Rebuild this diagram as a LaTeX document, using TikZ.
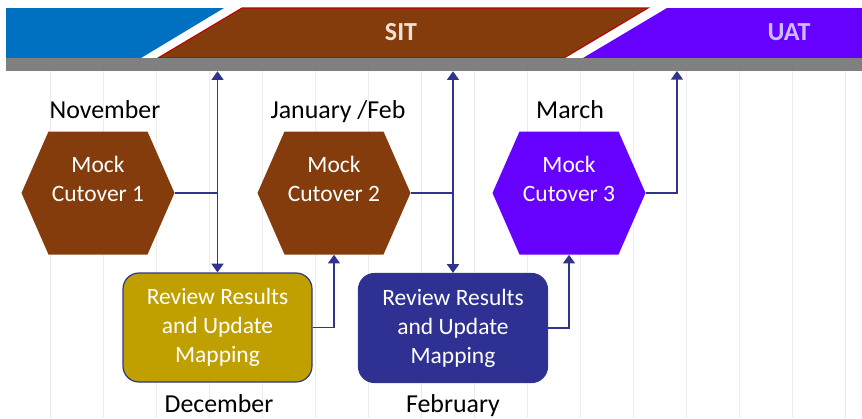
\documentclass[tikz,border=0pt]{standalone}
\usepackage{fontspec}
\setmainfont{Carlito}
\usetikzlibrary{arrows.meta}

\definecolor{devblue}{RGB}{0,112,192}
\definecolor{cutbrown}{RGB}{132,60,12}
\definecolor{uatviolet}{RGB}{102,0,255}
\definecolor{reviewgold}{RGB}{191,160,0}
\definecolor{reviewnavy}{RGB}{46,49,146}
\definecolor{linknavy}{RGB}{48,52,140}
\definecolor{bandgray}{RGB}{128,128,128}

\tikzstyle{monthS}=[inner sep=0pt, anchor=base, font=\fontsize{19.4}{23}\selectfont]
\tikzstyle{tagS}=[inner sep=0pt, anchor=base, font=\fontsize{19.5}{23}\selectfont\bfseries]
\tikzstyle{boxS}=[rectangle, rounded corners=12pt, minimum width=141.75pt, minimum height=81.75pt, inner sep=0pt, draw=linknavy, line width=0.9pt, text=white, align=center, font=\fontsize{17.6}{21.8}\selectfont]
\tikzstyle{linkS}=[linknavy, line width=1.1pt]
\tikzstyle{gridS}=[gray!15, line width=0.6pt]
\tikzset{hexS/.style={minimum width=114.75pt, minimum height=92.25pt, inner sep=0pt, text=white, align=center, font=\fontsize{17.6}{21.4}\selectfont,
    path picture={\fill[#1] (path picture bounding box.west)
        -- ([xshift=20.25pt]path picture bounding box.north west)
        -- ([xshift=-20.25pt]path picture bounding box.north east)
        -- (path picture bounding box.east)
        -- ([xshift=-20.25pt]path picture bounding box.south east)
        -- ([xshift=20.25pt]path picture bounding box.south west) -- cycle;}}}

\begin{document}
\begin{tikzpicture}[x=0.75pt,y=-0.75pt,>={Triangle[width=9pt,length=6.5pt]}]
    \useasboundingbox (0,0) rectangle (862,418);
    \foreach \gx in {0,...,15}
        \draw[gridS] ({50+53*\gx},71) -- ({50+53*\gx},418);

    % phase bar
    \fill[devblue] (6,8) -- (224,8) -- (141,58) -- (6,58) -- cycle;
    \draw[fill=cutbrown, draw=red!75!black, line width=0.8pt] (242,8) -- (648,8) -- (564,58) -- (158,58) -- cycle;
    \fill[uatviolet] (667,8) -- (862,8) -- (862,58) -- (583,58) -- cycle;
    \draw (434,64.5) node[fill=bandgray, minimum width=642pt, minimum height=9.75pt, inner sep=0pt] (band) {};
    \draw (401,40) node[tagS, text={rgb,255:red,242;green,224;blue,214}] (sit) {SIT};
    \draw (789,40) node[tagS, text={rgb,255:red,204;green,188;blue,255}] (uat) {UAT};
    \coordinate (uatlink) at (677,71);

    \draw (98,193) node[hexS=cutbrown] (mc1) {Mock\\Cutover 1\\\mbox{}};
    \draw (334,193) node[hexS=cutbrown] (mc2) {Mock\\Cutover 2\\\mbox{}};
    \draw (569,193) node[hexS=uatviolet] (mc3) {Mock\\Cutover 3\\\mbox{}};
    \draw (217.5,327.5) node[boxS, fill=reviewgold] (rr1) {Review Results\\and Update\\Mapping};
    \draw (453,328) node[boxS, fill=reviewnavy] (rr2) {Review Results\\and Update\\Mapping};

    \draw (105,118) node[monthS] (nov) {November};
    \draw (338,118) node[monthS] (jan) {January /Feb};
    \draw (570,118) node[monthS] (mar) {March};
    \draw (219,412) node[monthS] (dec) {December};
    \draw (453,412) node[monthS] (feb) {February};

    \draw[linkS, <->] (band.south -| rr1.north) -- (rr1.north);
    \draw[linkS] (mc1.east) -- (mc1.east -| rr1.north);
    \draw[linkS, ->] (rr1.east) -| (mc2.south);
    \draw[linkS, <->] (band.south -| rr2.north) -- (rr2.north);
    \draw[linkS] (mc2.east) -- (mc2.east -| rr2.north);
    \draw[linkS, ->] (rr2.east) -| (mc3.south);
    \draw[linkS, ->] (mc3.east) -| (uatlink);
\end{tikzpicture}
\end{document}
